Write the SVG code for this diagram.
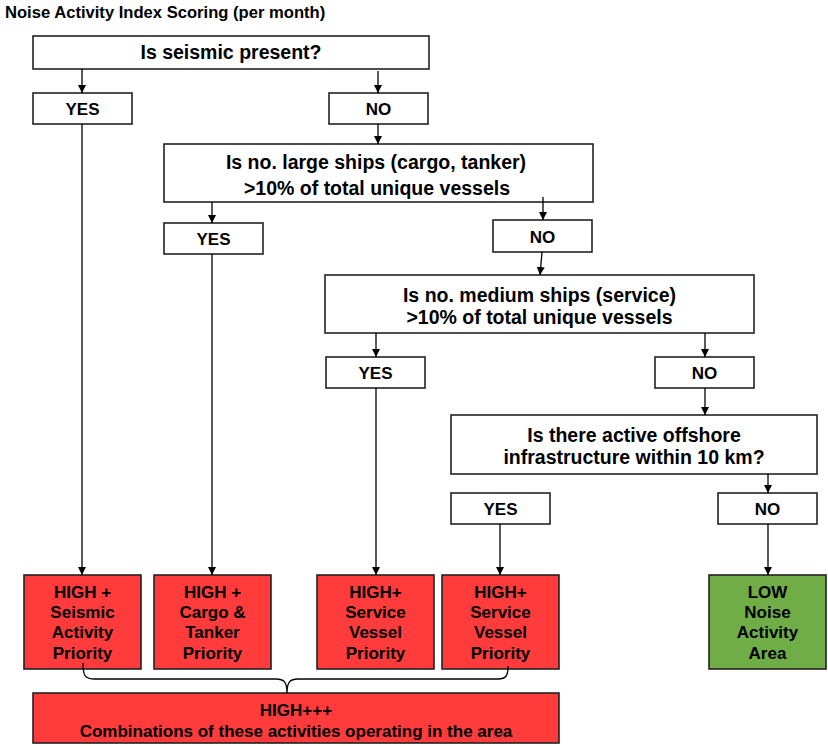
<svg xmlns="http://www.w3.org/2000/svg" width="828" height="746" viewBox="0 0 828 746">
<defs>
<marker id="ah" markerWidth="8" markerHeight="8" refX="8" refY="4" orient="auto" markerUnits="userSpaceOnUse">
<path d="M0,0 L8,4 L0,8 z" fill="#000"/>
</marker>
<style>
text{font-family:"Liberation Sans",Arial,sans-serif;font-weight:bold;fill:#000;text-anchor:middle}
.box{fill:#fff;stroke:#222;stroke-width:1.6}
.red{fill:#FF3B3B;stroke:#222;stroke-width:1.6}
.green{fill:#70AD47;stroke:#222;stroke-width:1.6}
.q{font-size:19.5px}
.l{font-size:17px}
.c line{stroke:#000;stroke-width:1.3;marker-end:url(#ah)}
.brace{fill:none;stroke:#000;stroke-width:1.3}
</style>
</defs>
<rect width="828" height="746" fill="#fff"/>
<text x="5" y="18" style="font-size:16.6px;text-anchor:start">Noise Activity Index Scoring (per month)</text>

<g id="q1"><rect class="box" x="33" y="36" width="396" height="33"/><text class="q" x="231" y="59">Is seismic present?</text></g>
<g id="yes1"><rect class="box" x="33" y="93" width="99" height="31"/><text class="l" x="82.5" y="115">YES</text></g>
<g id="no1"><rect class="box" x="329" y="93" width="99" height="31"/><text class="l" x="378.5" y="115">NO</text></g>

<g id="q2"><rect class="box" x="164" y="144" width="429" height="58"/><text class="q" x="376" y="169">Is no. large ships (cargo, tanker)</text><text class="q" x="377" y="195">&gt;10% of total unique vessels</text></g>
<g id="yes2"><rect class="box" x="164" y="223" width="99" height="31"/><text class="l" x="213.5" y="245">YES</text></g>
<g id="no2"><rect class="box" x="493" y="220" width="99" height="32"/><text class="l" x="542.5" y="243">NO</text></g>

<g id="q3"><rect class="box" x="325" y="275" width="429" height="58"/><text class="q" x="539.5" y="302">Is no. medium ships (service)</text><text class="q" x="539.5" y="324">&gt;10% of total unique vessels</text></g>
<g id="yes3"><rect class="box" x="326" y="357" width="99" height="31"/><text class="l" x="375.5" y="379">YES</text></g>
<g id="no3"><rect class="box" x="655" y="357" width="99" height="31"/><text class="l" x="704.5" y="379">NO</text></g>

<g id="q4"><rect class="box" x="451" y="415" width="366" height="59"/><text class="q" x="634" y="442">Is there active offshore</text><text class="q" x="634" y="464">infrastructure within 10 km?</text></g>
<g id="yes4"><rect class="box" x="451" y="493" width="99" height="31"/><text class="l" x="500.5" y="515">YES</text></g>
<g id="no4"><rect class="box" x="718" y="493" width="99" height="31"/><text class="l" x="767.5" y="515">NO</text></g>

<g id="r1"><rect class="red" x="24" y="575" width="117" height="94"/><text class="l" x="82.5" y="598">HIGH +</text><text class="l" x="82.5" y="618">Seismic</text><text class="l" x="82.5" y="638">Activity</text><text class="l" x="82.5" y="659">Priority</text></g>
<g id="r2"><rect class="red" x="154" y="575" width="117" height="94"/><text class="l" x="212.5" y="598">HIGH +</text><text class="l" x="212.5" y="618">Cargo &amp;</text><text class="l" x="212.5" y="638">Tanker</text><text class="l" x="212.5" y="659">Priority</text></g>
<g id="r3"><rect class="red" x="317" y="575" width="117" height="94"/><text class="l" x="375.5" y="598">HIGH+</text><text class="l" x="375.5" y="618">Service</text><text class="l" x="375.5" y="638">Vessel</text><text class="l" x="375.5" y="659">Priority</text></g>
<g id="r4"><rect class="red" x="442" y="575" width="117" height="94"/><text class="l" x="500.5" y="598">HIGH+</text><text class="l" x="500.5" y="618">Service</text><text class="l" x="500.5" y="638">Vessel</text><text class="l" x="500.5" y="659">Priority</text></g>
<g id="low"><rect class="green" x="709" y="575" width="117" height="94"/><text class="l" x="767.5" y="598">LOW</text><text class="l" x="767.5" y="618">Noise</text><text class="l" x="767.5" y="638">Activity</text><text class="l" x="767.5" y="659">Area</text></g>

<g id="combo"><rect class="red" x="33" y="693" width="526" height="50"/><text class="l" x="296" y="716">HIGH+++</text><text class="l" x="296" y="737">Combinations of these activities operating in the area</text></g>

<g id="connectors" class="c">
<line x1="82" y1="69" x2="82" y2="93"/>
<line x1="378" y1="71" x2="378" y2="93"/>
<line x1="378" y1="124" x2="378" y2="144"/>
<line x1="212" y1="202" x2="212" y2="223"/>
<line x1="543" y1="197" x2="543" y2="220"/>
<line x1="542" y1="252" x2="540" y2="275"/>
<line x1="376" y1="333" x2="376" y2="357"/>
<line x1="705" y1="333" x2="705" y2="357"/>
<line x1="705" y1="388" x2="705" y2="415"/>
<line x1="768" y1="474" x2="768" y2="493"/>
<line x1="82" y1="124" x2="82" y2="575"/>
<line x1="212" y1="254" x2="212" y2="575"/>
<line x1="376" y1="388" x2="376" y2="575"/>
<line x1="500" y1="524" x2="500" y2="575"/>
<line x1="768" y1="524" x2="768" y2="575"/>
<path class="brace" d="M83,663 C83,676 85,679 95,679 L276,679 C284,679 287,682 287,693 C287,682 290,679 298,679 L498,679 C506,679 508,676 508,666"/>
</g>
</svg>
